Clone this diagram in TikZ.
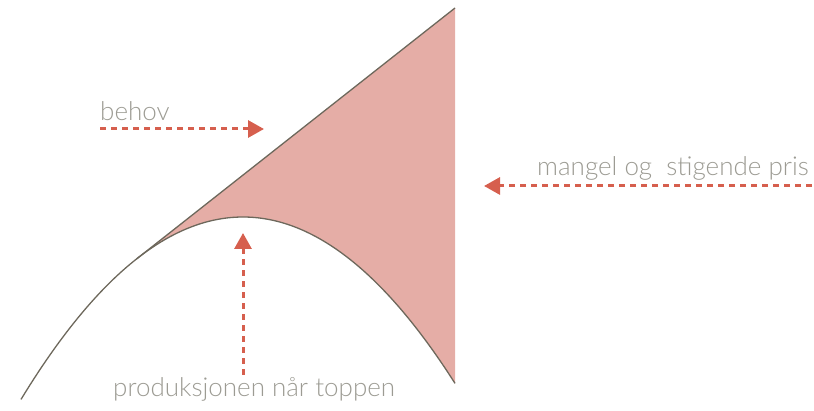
\documentclass[tikz,border=0pt]{standalone}
\usepackage{fontspec}
\setmainfont{Lato}[UprightFont=* Light]
\usetikzlibrary{arrows.meta}
\definecolor{rust}{HTML}{D65F4E}
\definecolor{rose}{HTML}{E5ADA6}
\definecolor{kurve}{HTML}{6D685C}
\definecolor{grå}{HTML}{9C9B93}
\tikzset{
  pil/.style={rust, line width=3pt, dash pattern=on 6pt off 5pt,
    -{Triangle[length=16pt,width=17pt]}},
  tekst/.style={grå, font=\fontsize{26}{30}\selectfont, inner sep=0pt, anchor=base west},
  linje/.style={kurve, line width=1.3pt},
}
\begin{document}
\begin{tikzpicture}[x=1pt,y=-1pt]
  \useasboundingbox (0,0) rectangle (814,411);
  % gapet mellom behov og produksjon
  \coordinate (topp) at (455,8);
  \coordinate (tangent) at (136.5,259);
  \fill[rose] (tangent) -- (topp) -- (455,383.3)
    -- plot[domain=455:136.5,samples=60] (\x,{217+(0.06083*(\x-243))^2}) -- cycle;
  \draw[linje] plot[domain=21:455,samples=100] (\x,{217+(0.06083*(\x-243))^2});
  \draw[linje] (tangent) -- (topp);
  % tekster
  \node[tekst] (behov) at (100,121) {behov};
  \node[tekst] (mangel) at (537,176) {mangel og\ \ stigende pris};
  \node[tekst] (prod) at (113,397) {produksjonen når toppen};
  % piler
  \coordinate (behovfra) at (100,129);
  \coordinate (behovtil) at (264,129);
  \coordinate (mangelfra) at (812,186);
  \coordinate (mangeltil) at (484,186);
  \coordinate (prodfra) at (243,375);
  \coordinate (prodtil) at (243,233);
  \draw[pil] (behovfra) -- (behovtil);
  \draw[pil] (mangelfra) -- (mangeltil);
  \draw[pil] (prodfra) -- (prodtil);
\end{tikzpicture}
\end{document}
